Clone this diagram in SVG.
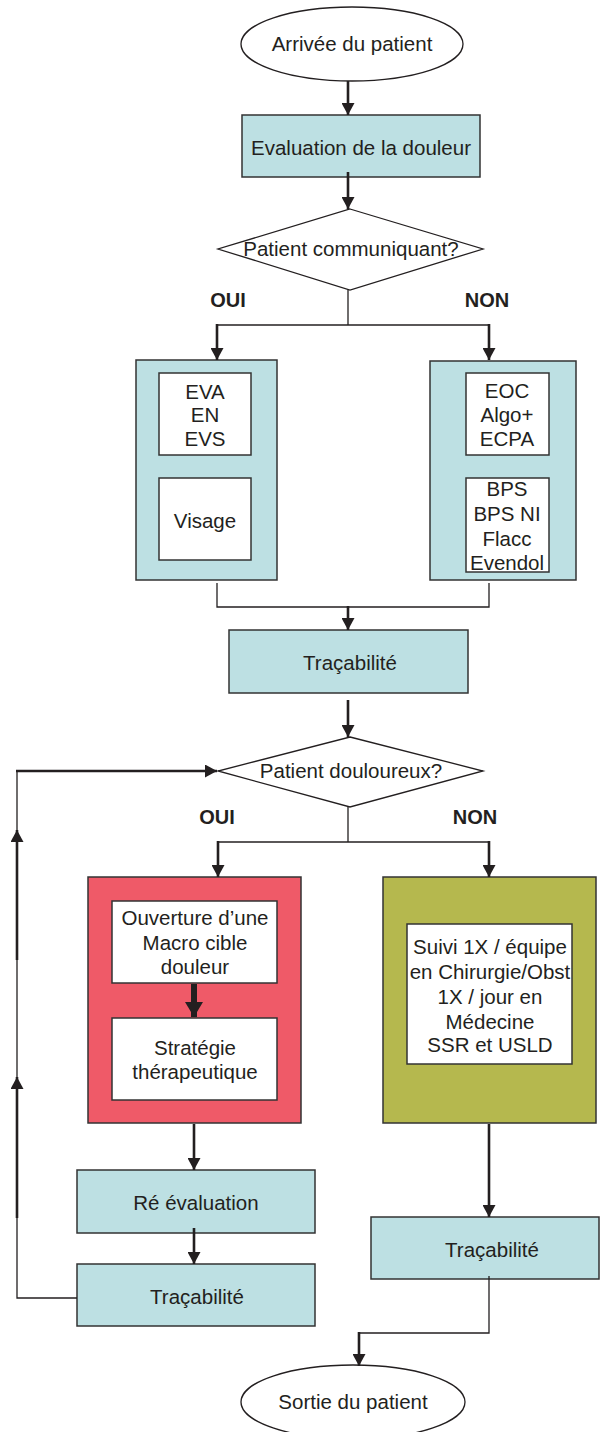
<svg xmlns="http://www.w3.org/2000/svg" width="600" height="1432" viewBox="0 0 600 1432">
<defs>
<marker id="ah" viewBox="0 0 12 13" refX="12" refY="6.5" markerWidth="12" markerHeight="13" markerUnits="userSpaceOnUse" orient="auto"><path d="M0,0 L12,6.5 L0,13 z" fill="#231f20"/></marker>
<marker id="ahb" viewBox="0 0 15 18" refX="15" refY="9" markerWidth="15" markerHeight="18" markerUnits="userSpaceOnUse" orient="auto"><path d="M0,0 L15,9 L0,18 z" fill="#231f20"/></marker>
</defs>
<style>
text{font-family:"Liberation Sans",Arial,sans-serif;font-size:20.5px;fill:#231f20;text-anchor:middle}
.b{font-weight:bold;font-size:20px}
.blue{fill:#bde0e3;stroke:#333;stroke-width:1.5}
.white{fill:#fff;stroke:#333;stroke-width:1.5}
.red{fill:#ef5a68;stroke:#333;stroke-width:1.5}
.olive{fill:#b5b84e;stroke:#333;stroke-width:1.5}
.term{fill:#fff;stroke:#231f20;stroke-width:1.3}
.thin{fill:none;stroke:#231f20;stroke-width:1.3}
.arr{fill:none;stroke:#231f20;stroke-width:2.6;marker-end:url(#ah)}
.arrb{fill:none;stroke:#231f20;stroke-width:6;marker-end:url(#ahb)}
</style>
<rect width="600" height="1432" fill="#fff"/>
<g id="arrivee">
<ellipse class="term" cx="352" cy="44" rx="111" ry="37"/>
<text x="352" y="51">Arrivée du patient</text>
</g>
<g id="evaluation">
<rect class="blue" x="242" y="115" width="238" height="62"/>
<text x="361" y="155">Evaluation de la douleur</text>
</g>
<g id="communiquant">
<polygon class="term" points="350,209 483,249 350,290 218,249"/>
<text x="351" y="256">Patient communiquant?</text>
</g>
<g id="label-oui-1"><text class="b" x="228" y="307">OUI</text></g>
<g id="label-non-1"><text class="b" x="487" y="307">NON</text></g>
<g id="oui-scales">
<rect class="blue" x="136" y="360" width="141" height="220"/>
<rect class="white" x="159" y="373" width="92" height="82"/>
<text x="205" y="399">EVA</text>
<text x="205" y="422">EN</text>
<text x="205" y="446">EVS</text>
<rect class="white" x="159" y="478" width="92" height="82"/>
<text x="205" y="528">Visage</text>
</g>
<g id="non-scales">
<rect class="blue" x="430" y="361" width="146" height="219"/>
<rect class="white" x="466" y="373" width="83" height="82"/>
<text x="507" y="398">EOC</text>
<text x="507" y="422">Algo+</text>
<text x="507" y="446">ECPA</text>
<rect class="white" x="466" y="478" width="83" height="94"/>
<text x="507" y="496">BPS</text>
<text x="507" y="521">BPS NI</text>
<text x="507" y="546">Flacc</text>
<text x="507" y="570">Evendol</text>
</g>
<g id="tracabilite-1">
<rect class="blue" x="229" y="630" width="239" height="63"/>
<text x="350" y="670">Traçabilité</text>
</g>
<g id="douloureux">
<polygon class="term" points="350,737 483,771 350,807 218,771"/>
<text x="351" y="778">Patient douloureux?</text>
</g>
<g id="label-oui-2"><text class="b" x="217" y="824">OUI</text></g>
<g id="label-non-2"><text class="b" x="475" y="824">NON</text></g>
<g id="prise-en-charge">
<rect class="red" x="88" y="877" width="213" height="246"/>
<rect class="white" x="112" y="901" width="165" height="82"/>
<text x="195" y="925">Ouverture d’une</text>
<text x="195" y="950">Macro cible</text>
<text x="195" y="974">douleur</text>
<rect class="white" x="112" y="1018" width="165" height="82"/>
<text x="195" y="1055">Stratégie</text>
<text x="195" y="1079">thérapeutique</text>
</g>
<g id="suivi">
<rect class="olive" x="383" y="877" width="213" height="246"/>
<rect class="white" x="407" y="924" width="165" height="140"/>
<text x="490" y="954">Suivi 1X / équipe</text>
<text x="490" y="979">en Chirurgie/Obst</text>
<text x="490" y="1004">1X / jour en</text>
<text x="490" y="1029">Médecine</text>
<text x="490" y="1052">SSR et USLD</text>
</g>
<g id="reevaluation">
<rect class="blue" x="77" y="1170" width="238" height="63"/>
<text x="196" y="1210">Ré évaluation</text>
</g>
<g id="tracabilite-2">
<rect class="blue" x="77" y="1264" width="238" height="62"/>
<text x="197" y="1304">Traçabilité</text>
</g>
<g id="tracabilite-3">
<rect class="blue" x="371" y="1217" width="228" height="62"/>
<text x="492" y="1257">Traçabilité</text>
</g>
<g id="sortie">
<ellipse class="term" cx="353" cy="1402" rx="112" ry="37"/>
<text x="353" y="1409">Sortie du patient</text>
</g>
<g id="connectors">
<line class="arr" x1="348" y1="81" x2="348" y2="115"/>
<line class="arr" x1="348" y1="172" x2="348" y2="209"/>
<polyline class="thin" points="348,290 348,325"/>
<polyline class="thin" points="217,325 489,325"/>
<line class="arr" x1="217" y1="324" x2="217" y2="360"/>
<line class="arr" x1="489" y1="324" x2="489" y2="360"/>
<polyline class="thin" points="217,583 217,607 489,607 489,583"/>
<line class="arr" x1="348" y1="606" x2="348" y2="630"/>
<line class="arr" x1="348" y1="700" x2="348" y2="737"/>
<polyline class="thin" points="348,807 348,842"/>
<polyline class="thin" points="218,842 489,842"/>
<line class="arr" x1="218" y1="841" x2="218" y2="877"/>
<line class="arr" x1="489" y1="841" x2="489" y2="877"/>
<line class="arrb" x1="194" y1="984" x2="194" y2="1017"/>
<line class="arr" x1="194" y1="1124" x2="194" y2="1170"/>
<line class="arr" x1="194" y1="1228" x2="194" y2="1264"/>
<polyline class="thin" points="77,1298 17,1298 17,1218"/>
<line class="arr" x1="17" y1="1218" x2="17" y2="1077"/>
<polyline class="thin" points="17,1077 17,960"/>
<line class="arr" x1="17" y1="960" x2="17" y2="830"/>
<polyline class="thin" points="17,830 17,771"/>
<line class="arr" x1="16" y1="771" x2="217" y2="771"/>
<line class="arr" x1="489" y1="1124" x2="489" y2="1217"/>
<polyline class="thin" points="489,1276 489,1333 359,1333"/>
<line class="arr" x1="359" y1="1332" x2="359" y2="1366"/>
</g>
</svg>
